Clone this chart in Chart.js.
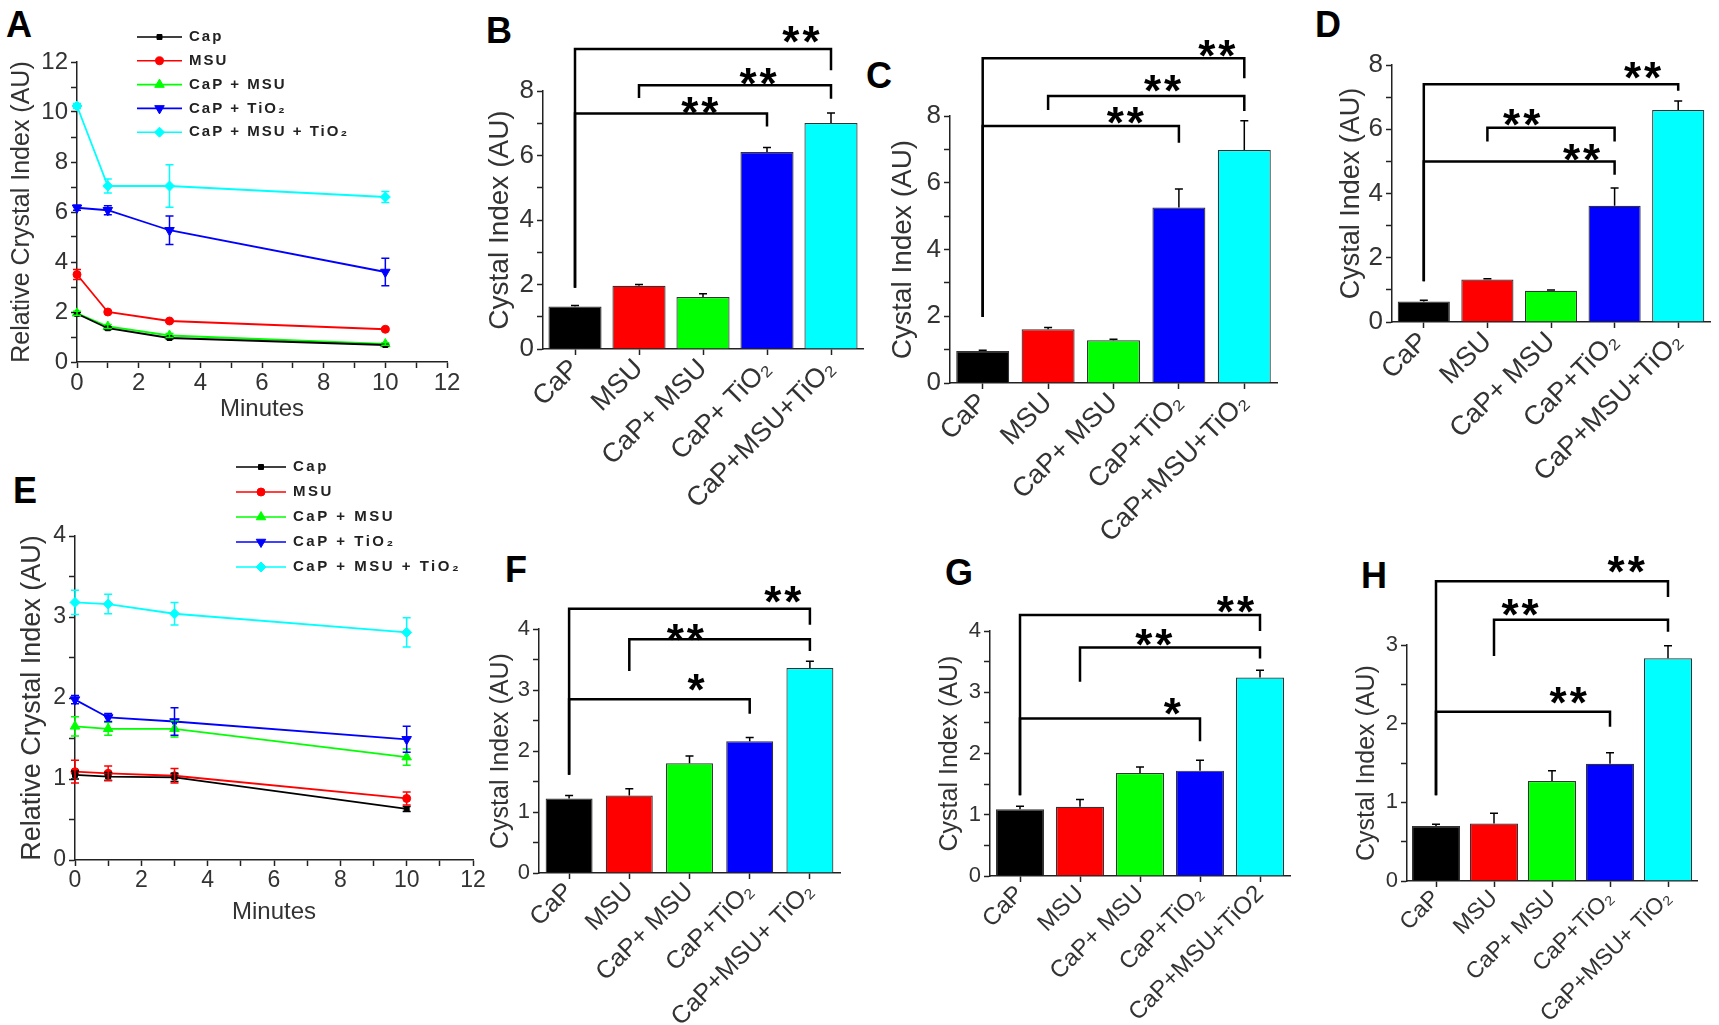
<!DOCTYPE html>
<html>
<head>
<meta charset="utf-8">
<script src="https://cdn.jsdelivr.net/npm/chart.js@4.4.1/dist/chart.umd.min.js"></script>
<style>
  body { margin: 0; background: #fff; width: 1719px; height: 1025px; position: relative; overflow: hidden; }
  canvas { position: absolute; }
  .letter { position: absolute; font: bold 36px "Liberation Sans", Arial, sans-serif; color: #000; line-height: 1; }
</style>
</head>
<body>
<div class="letter" style="left:6px;top:7px">A</div>
<div class="letter" style="left:486px;top:13px">B</div>
<div class="letter" style="left:866px;top:58px">C</div>
<div class="letter" style="left:1315px;top:7px">D</div>
<div class="letter" style="left:13px;top:473px">E</div>
<div class="letter" style="left:505px;top:552px">F</div>
<div class="letter" style="left:945px;top:555px">G</div>
<div class="letter" style="left:1361px;top:558px">H</div>

<script>
// ===== DATA =====

// time-course panels (A, E)
const minutes = [0, 1, 3, 10];
const seriesNames = ['Cap', 'MSU', 'CaP + MSU', 'CaP + TiO₂', 'CaP + MSU + TiO₂'];

const aCap = [1.93, 1.35, 0.96, 0.68];
const aMsu = [3.5, 2.0, 1.64, 1.31];
const aCapMsu = [1.95, 1.42, 1.06, 0.72];
const aCapTio2 = [6.17, 6.07, 5.27, 3.6];
const aCapMsuTio2 = [10.24, 7.04, 7.04, 6.6];
const aCapErr = [0.06, 0.05, 0.04, 0.03];
const aMsuErr = [0.2, 0.05, 0.05, 0.05];
const aCapMsuErr = [0.08, 0.08, 0.08, 0.05];
const aCapTio2Err = [0.1, 0.18, 0.57, 0.55];
const aCapMsuTio2Err = [0.1, 0.28, 0.85, 0.22];

const eCap = [1.05, 1.03, 1.02, 0.63];
const eMsu = [1.09, 1.07, 1.04, 0.76];
const eCapMsu = [1.65, 1.62, 1.62, 1.27];
const eCapTio2 = [1.98, 1.76, 1.71, 1.49];
const eCapMsuTio2 = [3.18, 3.16, 3.04, 2.81];
const eCapErr = [0.05, 0.05, 0.05, 0.03];
const eMsuErr = [0.14, 0.09, 0.09, 0.08];
const eCapMsuErr = [0.12, 0.08, 0.1, 0.1];
const eCapTio2Err = [0.05, 0.05, 0.17, 0.16];
const eCapMsuTio2Err = [0.15, 0.12, 0.14, 0.18];

// bar panels (B, C, D, F, G, H)
const bLabels = ['CaP', 'MSU', 'CaP+ MSU', 'CaP+ TiO₂', 'CaP+MSU+TiO₂'];
const bMeans = [1.32, 1.96, 1.61, 6.11, 7.01];
const bErrs = [0.03, 0.04, 0.1, 0.14, 0.31];
const bPairs = [[0, 4], [1, 4], [0, 3]];
const bLevels = [9.3, 8.18, 7.3];
const bEnds = [[1.9, 8.64], [7.78, 7.76], [1.9, 6.9]];
const bMarks = ['**', '**', '**'];
const bMarkAt = [[3.53, 9.83], [2.86, 8.53], [1.95, 7.63]];

const cLabels = ['CaP', 'MSU', 'CaP+ MSU', 'CaP+TiO₂', 'CaP+MSU+TiO₂'];
const cMeans = [0.96, 1.61, 1.28, 5.26, 6.98];
const cErrs = [0.02, 0.05, 0.03, 0.55, 0.88];
const cPairs = [[0, 4], [1, 4], [0, 3]];
const cLevels = [9.73, 8.6, 7.7];
const cEnds = [[1.98, 9.13], [8.18, 8.15], [1.98, 7.2]];
const cMarks = ['**', '**', '**'];
const cMarkAt = [[3.58, 10.1], [2.75, 9.04], [2.18, 8.1]];

const dLabels = ['CaP', 'MSU', 'CaP+ MSU', 'CaP+TiO₂', 'CaP+MSU+TiO₂'];
const dMeans = [0.64, 1.32, 0.97, 3.62, 6.6];
const dErrs = [0.04, 0.03, 0.03, 0.55, 0.28];
const dPairs = [[0, 4], [1, 3], [0, 3]];
const dLevels = [7.4, 6.05, 5.0];
const dEnds = [[1.27, 7.2], [5.62, 5.62], [1.27, 4.58]];
const dMarks = ['**', '**', '**'];
const dMarkAt = [[3.44, 7.9], [1.54, 6.45], [2.48, 5.36]];

const fLabels = ['CaP', 'MSU', 'CaP+ MSU', 'CaP+TiO₂', 'CaP+MSU+ TiO₂'];
const fMeans = [1.22, 1.27, 1.8, 2.16, 3.36];
const fErrs = [0.05, 0.11, 0.12, 0.06, 0.11];
const fPairs = [[0, 4], [1, 4], [0, 3]];
const fLevels = [4.33, 3.83, 2.85];
const fEnds = [[1.61, 4.07], [3.31, 3.64], [1.61, 2.61]];
const fMarks = ['**', '**', '*'];
const fMarkAt = [[3.55, 4.6], [1.93, 3.98], [2.11, 3.16]];

const gLabels = ['CaP', 'MSU', 'CaP+ MSU', 'CaP+TiO₂', 'CaP+MSU+TiO2'];
const gMeans = [1.09, 1.13, 1.68, 1.72, 3.24];
const gErrs = [0.05, 0.12, 0.1, 0.17, 0.12];
const gPairs = [[0, 4], [1, 4], [0, 3]];
const gLevels = [4.26, 3.73, 2.57];
const gEnds = [[1.32, 4.0], [3.17, 3.55], [1.32, 2.2]];
const gMarks = ['**', '**', '*'];
const gMarkAt = [[3.59, 4.47], [2.23, 3.93], [2.54, 2.81]];

const hLabels = ['CaP', 'MSU', 'CaP+ MSU', 'CaP+TiO₂', 'CaP+MSU+ TiO₂'];
const hMeans = [0.7, 0.73, 1.27, 1.49, 2.83];
const hErrs = [0.02, 0.13, 0.13, 0.14, 0.16];
const hPairs = [[0, 4], [1, 4], [0, 3]];
const hLevels = [3.81, 3.32, 2.15];
const hEnds = [[1.09, 3.61], [2.86, 3.17], [1.09, 1.96]];
const hMarks = ['**', '**', '**'];
const hMarkAt = [[3.28, 4.05], [1.45, 3.51], [2.28, 2.39]];

// ===== STYLE =====
const FONT = '"Liberation Sans", Arial, sans-serif';
const AXIS = '#222';
const TXT = '#333';
const barColors = ['#000000', '#ff0000', '#00ff00', '#0000ff', '#00ffff'];
const lineColors = ['#000000', '#ff0000', '#00ff00', '#0000ff', '#00ffff'];
const pointStyles = ['rect', 'circle', 'triangle', 'triangle', 'rectRot'];
const pointRots = [0, 0, 0, 180, 0];
const pointSizes = [3.5, 4, 5.5, 5.5, 5];

// ===== PLUGINS =====

/** Error bars from dataset.errors */
const errorBars = {
    id: 'errorBars',
    afterDatasetsDraw(chart, args, opts) {
        const ctx = chart.ctx;
        const ys = chart.scales.y;
        ctx.save();
        chart.data.datasets.forEach((ds, di) => {
            if (!ds.errors) return;
            const meta = chart.getDatasetMeta(di);
            meta.data.forEach((el, i) => {
                const raw = ds.data[i];
                const v = typeof raw === 'object' ? raw.y : raw;
                const e = ds.errors[i];
                const top = ys.getPixelForValue(v + e);
                const bot = ys.getPixelForValue(opts.upperOnly ? v : v - e);
                const cap = opts.cap || 4;
                ctx.strokeStyle = opts.color || ds.borderColor;
                ctx.lineWidth = opts.width || 1.5;
                ctx.beginPath();
                ctx.moveTo(el.x, bot); ctx.lineTo(el.x, top);
                ctx.moveTo(el.x - cap, top); ctx.lineTo(el.x + cap, top);
                if (!opts.upperOnly) { ctx.moveTo(el.x - cap, bot); ctx.lineTo(el.x + cap, bot); }
                ctx.stroke();
            });
        });
        ctx.restore();
    }
};

/** Significance brackets and stars, positioned in data units */
const sigBrackets = {
    id: 'sigBrackets',
    afterDraw(chart, args, o) {
        if (!o.pairs) return;
        const { ctx } = chart;
        const xs = chart.scales.x, ys = chart.scales.y;
        ctx.save();
        ctx.strokeStyle = '#000';
        ctx.lineWidth = 2.5;
        ctx.lineJoin = 'miter';
        o.pairs.forEach(([a, b], i) => {
            const x1 = xs.getPixelForValue(a), x2 = xs.getPixelForValue(b);
            const y = ys.getPixelForValue(o.levels[i]);
            ctx.beginPath();
            ctx.moveTo(x1, ys.getPixelForValue(o.ends[i][0]));
            ctx.lineTo(x1, y);
            ctx.lineTo(x2, y);
            ctx.lineTo(x2, ys.getPixelForValue(o.ends[i][1]));
            ctx.stroke();

            // stars, centred on their anchor
            ctx.fillStyle = '#000';
            ctx.font = `bold ${o.starSize}px ${FONT}`;
            ctx.textAlign = 'left';
            ctx.textBaseline = 'alphabetic';
            const mark = o.marks[i];
            const w = ctx.measureText('*').width;
            const total = mark.length * w + (mark.length - 1) * o.starGap;
            const cx = xs.getPixelForValue(o.markAt[i][0]);
            const cy = ys.getPixelForValue(o.markAt[i][1]);
            for (let k = 0; k < mark.length; k++) {
                ctx.fillText('*', cx - total / 2 + k * (w + o.starGap), cy + o.starSize * 0.57);
            }
        });
        ctx.restore();
    }
};

/** Legend drawn inside the plot like the original figure */
const inlineLegend = {
    id: 'inlineLegend',
    afterDraw(chart, args, o) {
        if (o.x == null) return;
        const ctx = chart.ctx;
        ctx.save();
        ctx.font = o.font;
        ctx.textBaseline = 'middle';
        if ('letterSpacing' in ctx) ctx.letterSpacing = o.spacing;
        chart.data.datasets.forEach((ds, i) => {
            const y = o.y + i * o.rowH;
            ctx.strokeStyle = ds.borderColor;
            ctx.fillStyle = ds.backgroundColor;
            ctx.lineWidth = 1.6;
            ctx.beginPath();
            ctx.moveTo(o.x, y); ctx.lineTo(o.x + o.lineLen, y);
            ctx.stroke();
            ctx.lineWidth = 1;
            Chart.helpers.drawPoint(ctx, {
                pointStyle: ds.pointStyle, rotation: ds.pointRotation || 0,
                radius: ds.pointRadius, borderWidth: 1
            }, o.x + o.lineLen / 2, y);
            ctx.fillStyle = '#222';
            ctx.fillText(ds.label, o.x + o.lineLen + o.gap, y);
        });
        ctx.restore();
    }
};

// ===== HELPERS =====

function makeCanvas(box) {
    const c = document.createElement('canvas');
    c.width = box.w; c.height = box.h;
    c.style.left = box.left + 'px';
    c.style.top = box.top + 'px';
    c.style.width = box.w + 'px';
    c.style.height = box.h + 'px';
    document.body.appendChild(c);
    return c;
}

// fix axis sizes so the plot area lands where the original has it
const yFix = w => s => { s.width = w; s.paddingTop = 0; s.paddingBottom = 0; };
const xFix = h => s => { s.height = h; s.paddingLeft = 0; s.paddingRight = 0; };

function axisStyle(size, padding) {
    return {
        border: { display: true, color: AXIS, width: 1.5 },
        grid: { drawOnChartArea: false, drawTicks: true, tickLength: 6, tickColor: AXIS, tickWidth: 1.5, offset: false },
        ticks: { color: TXT, font: { family: FONT, size: size }, padding: padding, autoSkip: false }
    };
}

function labelEvery(n) {
    return v => (Math.abs(v / n - Math.round(v / n)) < 1e-6 ? v : '');
}

function barPanel(box, p) {
    const xAxis = axisStyle(box.xFont, -2);
    xAxis.ticks.minRotation = 45;
    xAxis.ticks.maxRotation = 45;
    xAxis.afterFit = xFix(box.xH);

    const yAxis = axisStyle(box.yFont, 3);
    yAxis.min = 0;
    yAxis.max = p.max;
    yAxis.ticks.stepSize = p.step;
    yAxis.ticks.callback = labelEvery(p.every);
    yAxis.title = {
        display: true, text: 'Cystal Index (AU)', color: TXT,
        font: { family: FONT, size: box.titleFont }, padding: { top: box.titlePad, bottom: 0 }
    };
    yAxis.afterFit = yFix(box.yW);

    return new Chart(makeCanvas(box), {
        type: 'bar',
        data: {
            labels: p.labels,
            datasets: [{
                data: p.means,
                errors: p.errs,
                backgroundColor: barColors,
                borderColor: '#333',
                borderWidth: 1.2,
                barPercentage: box.barPct,
                categoryPercentage: 1
            }]
        },
        options: {
            responsive: false,
            animation: false,
            events: [],
            layout: { padding: { top: box.padTop, right: box.padRight, left: 0, bottom: 0 } },
            plugins: {
                legend: { display: false },
                tooltip: { enabled: false },
                errorBars: { color: '#000', upperOnly: true, cap: 4, width: 1.5 },
                sigBrackets: {
                    pairs: p.pairs, levels: p.levels, ends: p.ends, marks: p.marks, markAt: p.markAt,
                    starSize: box.starSize, starGap: box.starGap
                }
            },
            scales: { x: xAxis, y: yAxis }
        },
        plugins: [errorBars, sigBrackets]
    });
}

function linePanel(box, p) {
    const datasets = p.series.map((vals, i) => ({
        label: seriesNames[i],
        data: minutes.map((m, k) => ({ x: m, y: vals[k] })),
        errors: p.errs[i],
        borderColor: lineColors[i],
        backgroundColor: lineColors[i],
        borderWidth: 1.8,
        pointStyle: pointStyles[i],
        pointRotation: pointRots[i],
        pointRadius: pointSizes[i],
        pointBorderWidth: 1,
        tension: 0,
        clip: false
    }));

    const xAxis = axisStyle(box.tickFont, 1);
    xAxis.type = 'linear';
    xAxis.min = 0; xAxis.max = 12;
    xAxis.ticks.stepSize = 1;
    xAxis.ticks.callback = labelEvery(2);
    xAxis.ticks.maxRotation = 0;
    xAxis.title = {
        display: true, text: 'Minutes', color: TXT,
        font: { family: FONT, size: box.xTitleFont }, padding: { top: 0, bottom: box.xTitlePad }
    };
    xAxis.afterFit = xFix(box.xH);

    const yAxis = axisStyle(box.tickFont, 3);
    yAxis.min = 0; yAxis.max = p.max;
    yAxis.ticks.stepSize = p.step;
    yAxis.ticks.callback = labelEvery(p.every);
    yAxis.title = {
        display: true, text: 'Relative Crystal Index (AU)', color: TXT,
        font: { family: FONT, size: box.titleFont }, padding: { top: box.titlePad, bottom: 0 }
    };
    yAxis.afterFit = yFix(box.yW);

    return new Chart(makeCanvas(box), {
        type: 'line',
        data: { datasets },
        options: {
            responsive: false,
            animation: false,
            events: [],
            layout: { padding: { top: box.padTop, right: box.padRight, left: 0, bottom: 0 } },
            plugins: {
                legend: { display: false },
                tooltip: { enabled: false },
                errorBars: { cap: 4, width: 1.5 },
                inlineLegend: box.legend
            },
            scales: { x: xAxis, y: yAxis }
        },
        plugins: [errorBars, inlineLegend]
    });
}

// ===== PANELS =====

linePanel(
    { left: 0, top: 0, w: 470, h: 432, yW: 77, padTop: 62, padRight: 23, xH: 70,
      tickFont: 24, titleFont: 25, titlePad: 7, xTitleFont: 24, xTitlePad: 8,
      legend: { x: 137, y: 37, rowH: 23.8, lineLen: 45, gap: 7, font: `bold 15px ${FONT}`, spacing: '2px' } },
    { max: 12, step: 1, every: 2,
      series: [aCap, aMsu, aCapMsu, aCapTio2, aCapMsuTio2],
      errs: [aCapErr, aMsuErr, aCapMsuErr, aCapTio2Err, aCapMsuTio2Err] }
);

linePanel(
    { left: 0, top: 430, w: 490, h: 510, yW: 75, padTop: 106, padRight: 17, xH: 80,
      tickFont: 23, titleFont: 27, titlePad: 16, xTitleFont: 24, xTitlePad: 13,
      legend: { x: 236, y: 37, rowH: 25, lineLen: 50, gap: 7, font: `bold 15px ${FONT}`, spacing: '2.5px' } },
    { max: 4, step: 0.5, every: 1,
      series: [eCap, eMsu, eCapMsu, eCapTio2, eCapMsuTio2],
      errs: [eCapErr, eMsuErr, eCapMsuErr, eCapTio2Err, eCapMsuTio2Err] }
);

barPanel(
    { left: 465, top: 0, w: 415, h: 525, yW: 78, padTop: 91, padRight: 17, xH: 176,
      xFont: 27, yFont: 26, titleFont: 28, titlePad: 18, barPct: 0.83, starSize: 44, starGap: 3 },
    { labels: bLabels, means: bMeans, errs: bErrs, max: 8, step: 1, every: 2,
      pairs: bPairs, levels: bLevels, ends: bEnds, marks: bMarks, markAt: bMarkAt }
);

barPanel(
    { left: 880, top: 0, w: 420, h: 545, yW: 70, padTop: 116, padRight: 23, xH: 162,
      xFont: 27, yFont: 26, titleFont: 28, titlePad: 6, barPct: 0.81, starSize: 44, starGap: 3 },
    { labels: cLabels, means: cMeans, errs: cErrs, max: 8, step: 1, every: 2,
      pairs: cPairs, levels: cLevels, ends: cEnds, marks: cMarks, markAt: cMarkAt }
);

barPanel(
    { left: 1300, top: 0, w: 419, h: 485, yW: 92, padTop: 65, padRight: 9, xH: 163,
      xFont: 27, yFont: 26, titleFont: 27, titlePad: 35, barPct: 0.82, starSize: 44, starGap: 3 },
    { labels: dLabels, means: dMeans, errs: dErrs, max: 8, step: 1, every: 2,
      pairs: dPairs, levels: dLevels, ends: dEnds, marks: dMarks, markAt: dMarkAt }
);

barPanel(
    { left: 470, top: 520, w: 390, h: 505, yW: 69, padTop: 109, padRight: 20, xH: 152,
      xFont: 25, yFont: 22, titleFont: 25, titlePad: 16, barPct: 0.78, starSize: 44, starGap: 3 },
    { labels: fLabels, means: fMeans, errs: fErrs, max: 4, step: 0.5, every: 1,
      pairs: fPairs, levels: fLevels, ends: fEnds, marks: fMarks, markAt: fMarkAt }
);

barPanel(
    { left: 900, top: 520, w: 410, h: 505, yW: 90, padTop: 111, padRight: 20, xH: 149,
      xFont: 24, yFont: 22, titleFont: 25, titlePad: 35, barPct: 0.8, starSize: 44, starGap: 3 },
    { labels: gLabels, means: gMeans, errs: gErrs, max: 4, step: 0.5, every: 1,
      pairs: gPairs, levels: gLevels, ends: gEnds, marks: gMarks, markAt: gMarkAt }
);

barPanel(
    { left: 1320, top: 500, w: 399, h: 525, yW: 87, padTop: 145, padRight: 22, xH: 144,
      xFont: 23, yFont: 22, titleFont: 25, titlePad: 32, barPct: 0.83, starSize: 44, starGap: 3 },
    { labels: hLabels, means: hMeans, errs: hErrs, max: 3, step: 0.5, every: 1,
      pairs: hPairs, levels: hLevels, ends: hEnds, marks: hMarks, markAt: hMarkAt }
);
</script>
</body>
</html>
